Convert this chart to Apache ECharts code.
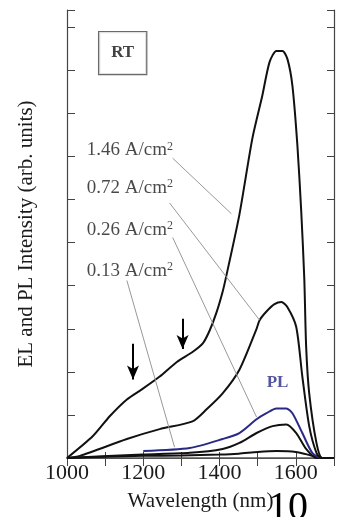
<!DOCTYPE html>
<html>
<head>
<meta charset="utf-8">
<script src="https://cdn.jsdelivr.net/npm/echarts@6/dist/echarts.min.js"></script>
<style>
  html, body { margin: 0; padding: 0; background: #fff; }
  #main { width: 337px; height: 517px; }
</style>
</head>
<body>
<div id="main"></div>
<script>
// wavelength (nm) / intensity pairs
var wl146 = [1000, 1068, 1112, 1157, 1199, 1243, 1288, 1329, 1356, 1374, 1392, 1408, 1418, 1452, 1486, 1512, 1531, 1549, 1565, 1578, 1591, 1604, 1614, 1622, 1627, 1635, 1654, 1669, 1700];
var el146 = [0, 0.51, 0.97, 1.36, 1.61, 1.89, 2.23, 2.46, 2.66, 2.96, 3.38, 3.86, 4.24, 5.65, 7.42, 8.41, 9.19, 9.45, 9.45, 9.26, 8.64, 7.26, 5.74, 4.19, 2.58, 1.50, 0.35, 0, 0];

var wl072 = [1000, 1034, 1157, 1243, 1329, 1366, 1408, 1452, 1497, 1505, 1523, 1544, 1562, 1578, 1601, 1617, 1635, 1654, 1667, 1700];
var el072 = [0, 0.05, 0.44, 0.67, 0.85, 1.13, 1.50, 2.05, 3.0, 3.2, 3.4, 3.57, 3.62, 3.50, 3.04, 1.89, 0.74, 0.12, 0, 0];

var wl026 = [1000, 1199, 1322, 1408, 1452, 1497, 1539, 1575, 1601, 1627, 1654, 1700];
var el026 = [0, 0.08, 0.12, 0.21, 0.35, 0.58, 0.74, 0.78, 0.58, 0.21, 0, 0];

var wl013 = [1000, 1100, 1200, 1300, 1400, 1450, 1500, 1550, 1600, 1640, 1670, 1700];
var el013 = [0, 0.03, 0.05, 0.06, 0.08, 0.1, 0.14, 0.16, 0.14, 0.06, 0, 0];

var wlPL = [1200, 1322, 1408, 1452, 1497, 1523, 1549, 1575, 1591, 1617, 1643, 1667, 1700];
var plInt = [0.16, 0.23, 0.44, 0.58, 0.90, 1.04, 1.15, 1.15, 1.04, 0.58, 0.12, 0, 0];

var xTicks = [1000, 1200, 1400, 1600];

// current density labels and their leader lines
var labelNames = ['1.46', '0.72', '0.26', '0.13'];
var labelPos = [[1052, 7.14], [1052, 6.27], [1052, 5.30], [1052, 4.35]];
var leaderFrom = [[1277, 6.96], [1269, 5.92], [1277, 5.12], [1157, 4.12]];
var leaderTo = [[1431, 5.67], [1505, 3.2], [1497, 0.95], [1282, 0.25]];

// arrows marking the shoulders
var arrowFrom = [[1173, 2.65], [1303, 3.23]];
var arrowTo = [[1173, 1.82], [1303, 2.53]];

var rtPos = [1146, 9.40];
var plPos = [1552, 1.75];

var serif = "'Liberation Serif', 'DejaVu Serif', serif";
var ink = '#111';
var navy = '#2a2a86';

function zip(xs, ys) {
    var out = [];
    for (var i = 0; i < xs.length; i++) out.push([xs[i], ys[i]]);
    return out;
}

var leaders = [];
for (var i = 0; i < leaderFrom.length; i++) {
    leaders.push([{ coord: leaderFrom[i] }, { coord: leaderTo[i] }]);
}
var arrows = [];
for (var j = 0; j < arrowFrom.length; j++) {
    arrows.push([{ coord: arrowFrom[j] }, { coord: arrowTo[j] }]);
}

var textPoints = [];
for (var k = 0; k < labelNames.length; k++) {
    textPoints.push({ value: labelPos[k], name: labelNames[k] });
}

function curve(data, color) {
    return {
        type: 'line',
        data: data,
        showSymbol: false,
        smooth: 0.25,
        lineStyle: { color: color, width: 2 },
        silent: true,
        z: 3
    };
}

var chart = echarts.init(document.getElementById('main'));
chart.setOption({
    animation: false,
    backgroundColor: '#fff',
    grid: { left: 67, right: 3, top: 10, bottom: 55 },
    xAxis: [{
        type: 'value',
        min: 1000,
        max: 1700,
        interval: 100,
        name: 'Wavelength (nm)',
        nameLocation: 'middle',
        nameGap: 33,
        nameTextStyle: { fontFamily: serif, fontSize: 21, color: '#1a1a1a' },
        axisLine: { show: true, lineStyle: { color: '#444', width: 1.2 } },
        axisTick: { show: true, inside: true, length: 6, lineStyle: { color: '#444' } },
        splitLine: { show: false },
        axisLabel: {
            fontFamily: serif, fontSize: 22, color: '#1a1a1a', margin: 4,
            formatter: function (v) { return xTicks.indexOf(v) >= 0 ? String(v) : ''; }
        }
    }, {
        type: 'value',
        position: 'top',
        min: 1000,
        max: 1700,
        interval: 100,
        axisLine: { show: true, lineStyle: { color: '#555', width: 1.5 } },
        axisTick: { show: true, inside: true, length: 8, lineStyle: { color: '#444' } },
        axisLabel: { show: false },
        splitLine: { show: false }
    }],
    yAxis: [{
        type: 'value',
        min: 0,
        max: 10.4,
        interval: 1,
        name: 'EL and PL Intensity (arb. units)',
        nameLocation: 'middle',
        nameGap: 30,
        nameTextStyle: { fontFamily: serif, fontSize: 21, color: '#1a1a1a' },
        axisLine: { show: true, lineStyle: { color: '#444', width: 1.2 } },
        axisTick: { show: true, inside: true, length: 8, lineStyle: { color: '#444' } },
        axisLabel: { show: false },
        splitLine: { show: false }
    }, {
        type: 'value',
        position: 'right',
        min: 0,
        max: 10.4,
        interval: 1,
        axisLine: { show: true, lineStyle: { color: '#444', width: 1.2 } },
        axisTick: { show: true, inside: true, length: 7, lineStyle: { color: '#444' } },
        axisLabel: { show: false },
        splitLine: { show: false }
    }],
    series: [
        curve(zip(wl013, el013), ink),
        curve(zip(wl026, el026), ink),
        curve(zip(wlPL, plInt), navy),
        curve(zip(wl072, el072), ink),
        curve(zip(wl146, el146), ink),
        {
            // leader lines
            type: 'line',
            data: [],
            markLine: {
                silent: true,
                animation: false,
                symbol: ['none', 'none'],
                label: { show: false },
                lineStyle: { color: '#999', width: 1, type: 'solid' },
                data: leaders
            }
        },
        {
            // arrows
            type: 'line',
            data: [],
            markLine: {
                silent: true,
                animation: false,
                symbol: ['none', 'arrow'],
                symbolSize: [9, 14],
                label: { show: false },
                lineStyle: { color: '#000', width: 2, type: 'solid' },
                itemStyle: { color: '#000' },
                data: arrows
            }
        },
        {
            type: 'scatter',
            symbolSize: 0,
            silent: true,
            data: textPoints,
            label: {
                show: true,
                position: 'inside',
                align: 'left',
                verticalAlign: 'middle',
                formatter: function (p) { return '{a|' + p.name + ' A/cm}{s|2}'; },
                rich: {
                    a: { fontFamily: serif, fontSize: 19, color: '#1a1a1a' },
                    s: { fontFamily: serif, fontSize: 12, color: '#1a1a1a', verticalAlign: 'top', padding: [0, 0, 8, 0] }
                }
            }
        },
        {
            type: 'scatter',
            symbolSize: 0,
            silent: true,
            data: [{ value: rtPos, name: 'RT' }],
            label: {
                show: true,
                position: 'inside',
                formatter: 'RT',
                fontFamily: serif,
                fontSize: 17,
                fontWeight: 'bold',
                color: '#111',
                borderColor: '#444',
                borderWidth: 1.2,
                padding: [13, 12, 12, 12],
                backgroundColor: '#fff'
            }
        },
        {
            type: 'scatter',
            symbolSize: 0,
            silent: true,
            data: [{ value: plPos, name: 'PL' }],
            label: {
                show: true,
                position: 'inside',
                formatter: 'PL',
                fontFamily: serif,
                fontSize: 17,
                fontWeight: 'bold',
                color: navy
            }
        }
    ],
    graphic: [{
        type: 'text',
        left: 268,
        top: 488,
        style: { text: '10', font: '40px ' + serif, fill: '#000' },
        z: 10
    }]
});
</script>
</body>
</html>
